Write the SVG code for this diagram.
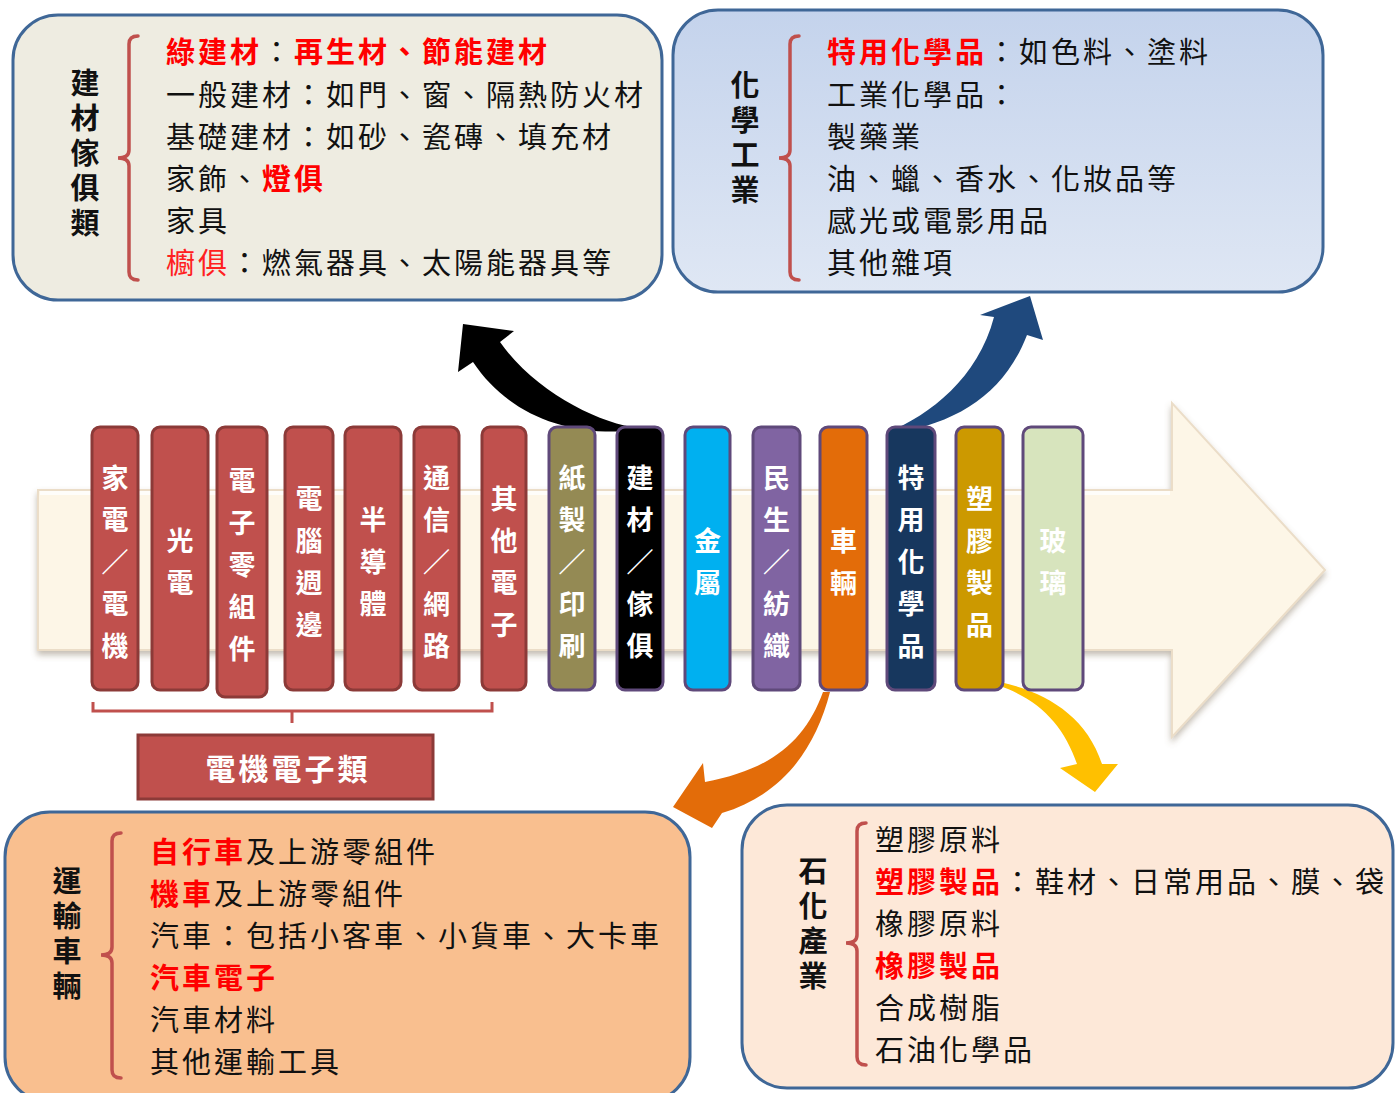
<svg xmlns="http://www.w3.org/2000/svg" width="1398" height="1093" viewBox="0 0 1398 1093">
<defs>
<style>
text{font-family:"Noto Sans CJK TC","Noto Sans CJK SC",sans-serif;}
.box{stroke:#3F6797;stroke-width:3;}
.brace{fill:none;stroke:#C0504D;stroke-width:3.5;stroke-linecap:round;}
.item{font-size:29px;letter-spacing:3px;fill:#111;}
.red{fill:#FF0000;font-weight:bold;}
.redl{fill:#FF2020;}
.title{font-size:29px;font-weight:bold;fill:#111;text-anchor:middle;writing-mode:vertical-rl;letter-spacing:6px;}
.bar{stroke-width:3;}
.rb{fill:#C0504D;stroke:#8C3A38;}
.bt{font-size:27px;font-weight:bold;fill:#FFFFFF;text-anchor:middle;}
</style>
<linearGradient id="blueg" x1="0" y1="0" x2="0" y2="1">
<stop offset="0" stop-color="#C4D3EC"/>
<stop offset="1" stop-color="#DFE7F4"/>
</linearGradient>
<filter id="sh" x="-5%" y="-10%" width="110%" height="125%">
<feDropShadow dx="0" dy="4" stdDeviation="3" flood-color="#7A6A55" flood-opacity="0.45"/>
</filter>
</defs>

<rect width="1398" height="1093" fill="#FFFFFF"/>

<!-- big background arrow -->
<g id="main-arrow">
<path d="M38,490 H1172 V403 L1325,570 L1172,737 V650 H38 Z" fill="#FDF6E7" stroke="#EBDDC8" stroke-width="2" filter="url(#sh)"/>
<path d="M40,493 H1170" stroke="#FFFFFF" stroke-width="4" opacity="0.8"/>
</g>

<!-- connectors -->
<g id="connectors">
<path d="M639,428 C600,424 535,392 500,342 L514,331 L463,324 L458,372 L473,362 C505,410 560,436 630,431 Z" fill="#000000"/>
<path d="M888,432 C930,415 978,378 994,317 L980,315 L1030,296 L1043,340 L1027,335 C1005,392 960,422 896,433 Z" fill="#1F497D"/>
<path d="M823,692 C805,742 770,770 705,782 L703,763 L673,807 L712,828 L722,813 C782,795 815,750 830,692 Z" fill="#E36C09"/>
<path d="M1000,682 C1045,692 1086,715 1102,764 L1118,764 L1095,792 L1060,768 L1077,764 C1064,726 1040,700 1000,686 Z" fill="#FFC000"/>
<path d="M93,702 V711 H492 V702 M292,711 V723" fill="none" stroke="#C0504D" stroke-width="3"/>
</g>

<!-- bars -->
<g id="bar-jiadian"><rect class="bar rb" x="92" y="427" width="46" height="263" rx="8"/>
<text class="bt"><tspan x="115" y="488">家</tspan><tspan x="115" y="530">電</tspan><tspan x="115" y="572">／</tspan><tspan x="115" y="614">電</tspan><tspan x="115" y="656">機</tspan></text></g>
<g id="bar-guangdian"><rect class="bar rb" x="152" y="427" width="56" height="263" rx="8"/>
<text class="bt"><tspan x="180" y="551">光</tspan><tspan x="180" y="593">電</tspan></text></g>
<g id="bar-dianzi"><rect class="bar rb" x="217" y="427" width="50" height="270" rx="8"/>
<text class="bt"><tspan x="242" y="491">電</tspan><tspan x="242" y="533">子</tspan><tspan x="242" y="575">零</tspan><tspan x="242" y="617">組</tspan><tspan x="242" y="659">件</tspan></text></g>
<g id="bar-diannao"><rect class="bar rb" x="285" y="427" width="48" height="263" rx="8"/>
<text class="bt"><tspan x="309" y="509">電</tspan><tspan x="309" y="551">腦</tspan><tspan x="309" y="593">週</tspan><tspan x="309" y="635">邊</tspan></text></g>
<g id="bar-bandaoti"><rect class="bar rb" x="345" y="427" width="56" height="263" rx="8"/>
<text class="bt"><tspan x="373" y="530">半</tspan><tspan x="373" y="572">導</tspan><tspan x="373" y="614">體</tspan></text></g>
<g id="bar-tongxin"><rect class="bar rb" x="414" y="427" width="45" height="263" rx="8"/>
<text class="bt"><tspan x="436.5" y="488">通</tspan><tspan x="436.5" y="530">信</tspan><tspan x="436.5" y="572">／</tspan><tspan x="436.5" y="614">網</tspan><tspan x="436.5" y="656">路</tspan></text></g>
<g id="bar-qita"><rect class="bar rb" x="482" y="427" width="44" height="263" rx="8"/>
<text class="bt"><tspan x="504" y="509">其</tspan><tspan x="504" y="551">他</tspan><tspan x="504" y="593">電</tspan><tspan x="504" y="635">子</tspan></text></g>
<g id="bar-zhizhi"><rect class="bar" x="549" y="427" width="46" height="263" rx="8" fill="#948A54" stroke="#5F497A"/>
<text class="bt"><tspan x="572" y="488">紙</tspan><tspan x="572" y="530">製</tspan><tspan x="572" y="572">／</tspan><tspan x="572" y="614">印</tspan><tspan x="572" y="656">刷</tspan></text></g>
<g id="bar-jiancai"><rect class="bar" x="617" y="427" width="46" height="263" rx="8" fill="#000000" stroke="#5F497A"/>
<text class="bt"><tspan x="640" y="488">建</tspan><tspan x="640" y="530">材</tspan><tspan x="640" y="572">／</tspan><tspan x="640" y="614">傢</tspan><tspan x="640" y="656">俱</tspan></text></g>
<g id="bar-jinshu"><rect class="bar" x="685" y="427" width="45" height="263" rx="8" fill="#00B0F0" stroke="#5F497A"/>
<text class="bt"><tspan x="707.5" y="551">金</tspan><tspan x="707.5" y="593">屬</tspan></text></g>
<g id="bar-minsheng"><rect class="bar" x="753" y="427" width="47" height="263" rx="8" fill="#8064A2" stroke="#5F497A"/>
<text class="bt"><tspan x="776.5" y="488">民</tspan><tspan x="776.5" y="530">生</tspan><tspan x="776.5" y="572">／</tspan><tspan x="776.5" y="614">紡</tspan><tspan x="776.5" y="656">織</tspan></text></g>
<g id="bar-cheliang"><rect class="bar" x="820" y="427" width="47" height="263" rx="8" fill="#E36C09" stroke="#5F497A"/>
<text class="bt"><tspan x="843.5" y="551">車</tspan><tspan x="843.5" y="593">輛</tspan></text></g>
<g id="bar-teyong"><rect class="bar" x="887" y="427" width="48" height="263" rx="8" fill="#17375E" stroke="#5F497A"/>
<text class="bt"><tspan x="911" y="488">特</tspan><tspan x="911" y="530">用</tspan><tspan x="911" y="572">化</tspan><tspan x="911" y="614">學</tspan><tspan x="911" y="656">品</tspan></text></g>
<g id="bar-sujiao"><rect class="bar" x="956" y="427" width="47" height="263" rx="8" fill="#CC9900" stroke="#5F497A"/>
<text class="bt"><tspan x="979.5" y="509">塑</tspan><tspan x="979.5" y="551">膠</tspan><tspan x="979.5" y="593">製</tspan><tspan x="979.5" y="635">品</tspan></text></g>
<g id="bar-boli"><rect class="bar" x="1023" y="427" width="60" height="263" rx="8" fill="#D7E4BD" stroke="#5F497A"/>
<text class="bt"><tspan x="1053" y="551">玻</tspan><tspan x="1053" y="593">璃</tspan></text></g>

<!-- label box -->
<g id="label-dianji">
<rect x="138" y="735" width="295" height="64" fill="#C0504D" stroke="#8C3A38" stroke-width="3"/>
<text x="288" y="780" font-size="30" font-weight="bold" fill="#FFFFFF" text-anchor="middle" letter-spacing="3">電機電子類</text>
</g>

<!-- top-left box -->
<g id="box-jiancai">
<rect class="box" x="13" y="15" width="649" height="285" rx="45" fill="#EEECE1"/>
<text class="title" x="85" y="156">建材傢俱類</text>
<path class="brace" d="M138,36 Q129,36 129,44 V150 Q129,158 118,158 Q129,158 129,166 V272 Q129,280 138,280"/>
<text class="item" x="166" y="63"><tspan class="red">綠建材</tspan>：<tspan class="red">再生材、節能建材</tspan></text>
<text class="item" x="166" y="106">一般建材：如門、窗、隔熱防火材</text>
<text class="item" x="166" y="148">基礎建材：如砂、瓷磚、填充材</text>
<text class="item" x="166" y="190">家飾、<tspan class="red">燈俱</tspan></text>
<text class="item" x="166" y="232">家具</text>
<text class="item" x="166" y="274"><tspan class="redl">櫥俱</tspan>：燃氣器具、太陽能器具等</text>
</g>

<!-- top-right box -->
<g id="box-huaxue">
<rect class="box" x="673" y="10" width="650" height="282" rx="45" fill="url(#blueg)"/>
<text class="title" x="745" y="140">化學工業</text>
<path class="brace" d="M799,36 Q790,36 790,44 V150 Q790,158 779,158 Q790,158 790,166 V272 Q790,280 799,280"/>
<text class="item" x="827" y="63"><tspan class="red">特用化學品</tspan>：如色料、塗料</text>
<text class="item" x="827" y="106">工業化學品：</text>
<text class="item" x="827" y="148">製藥業</text>
<text class="item" x="827" y="190">油、蠟、香水、化妝品等</text>
<text class="item" x="827" y="232">感光或電影用品</text>
<text class="item" x="827" y="274">其他雜項</text>
</g>

<!-- bottom-left box -->
<g id="box-yunshu">
<rect class="box" x="5" y="812" width="685" height="290" rx="45" fill="#F9BF8F"/>
<text class="title" x="67" y="936">運輸車輛</text>
<path class="brace" d="M121,833 Q112,833 112,841 V947 Q112,955 101,955 Q112,955 112,963 V1070 Q112,1078 121,1078"/>
<text class="item" x="150" y="863"><tspan class="red">自行車</tspan>及上游零組件</text>
<text class="item" x="150" y="905"><tspan class="red">機車</tspan>及上游零組件</text>
<text class="item" x="150" y="947">汽車：包括小客車、小貨車、大卡車</text>
<text class="item" x="150" y="989"><tspan class="red">汽車電子</tspan></text>
<text class="item" x="150" y="1031">汽車材料</text>
<text class="item" x="150" y="1073">其他運輸工具</text>
</g>

<!-- bottom-right box -->
<g id="box-shihua">
<rect class="box" x="742" y="805" width="651" height="283" rx="45" fill="#FDE8D8"/>
<text class="title" x="813" y="926">石化產業</text>
<path class="brace" d="M866,823 Q857,823 857,831 V935 Q857,943 846,943 Q857,943 857,951 V1057 Q857,1065 866,1065"/>
<text class="item" x="875" y="851">塑膠原料</text>
<text class="item" x="875" y="893"><tspan class="red">塑膠製品</tspan>：鞋材、日常用品、膜、袋</text>
<text class="item" x="875" y="935">橡膠原料</text>
<text class="item" x="875" y="977"><tspan class="red">橡膠製品</tspan></text>
<text class="item" x="875" y="1019">合成樹脂</text>
<text class="item" x="875" y="1061">石油化學品</text>
</g>
</svg>
